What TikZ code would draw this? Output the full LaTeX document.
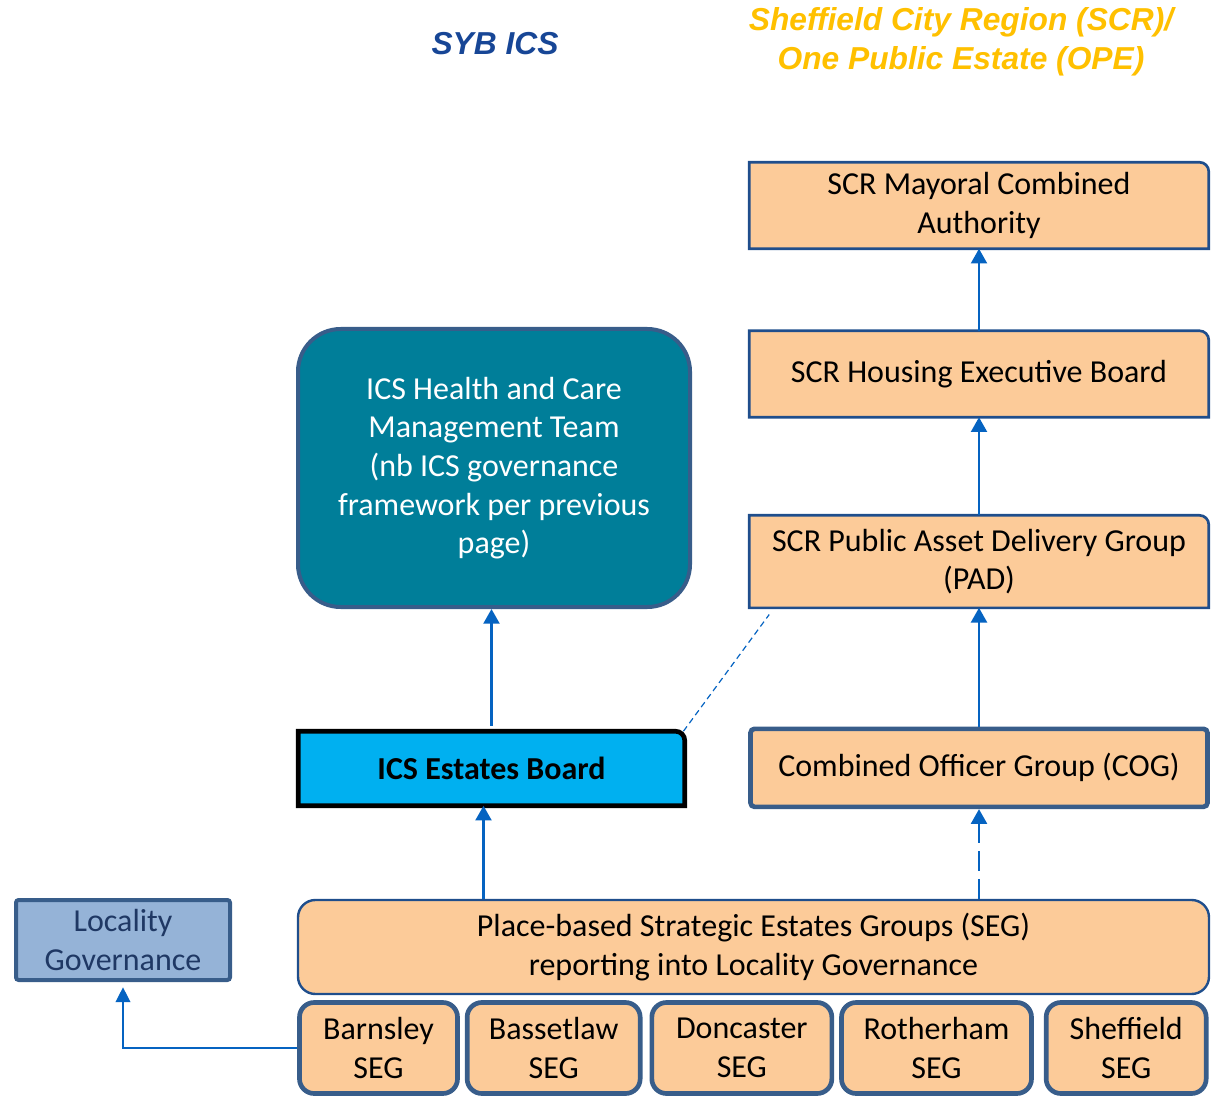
\documentclass[tikz,border=0pt]{standalone}
\usepackage{fontspec}
\setmainfont{Carlito}
\newfontfamily\headfont{Liberation Sans}
\usepackage{tikz}
\usetikzlibrary{arrows.meta, positioning, backgrounds}
\usepackage{xcolor}
\definecolor{peach}{RGB}{252,203,153}
\definecolor{navyline}{RGB}{31,78,140}
\definecolor{slateline}{RGB}{56,93,138}
\definecolor{tealbox}{RGB}{0,126,153}
\definecolor{cyanbox}{RGB}{0,176,240}
\definecolor{localbox}{RGB}{149,179,215}
\definecolor{localtext}{RGB}{31,56,100}
\definecolor{linkblue}{RGB}{5,99,193}
\definecolor{sybblue}{RGB}{23,70,150}
\definecolor{scrgold}{RGB}{255,192,0}

\newcommand{\cardfont}{\fontsize{24}{29}\selectfont}
% box outline with only the top right corner rounded
\newcommand{\tabframe}[2]{%
  \path[#1] (#2.south west) -- (#2.north west) -- ([xshift=-7pt]#2.north east)
    arc[start angle=90, end angle=0, radius=7pt] -- (#2.south east) -- cycle;}

\begin{document}
\begin{tikzpicture}[
    x=0.75pt, y=-0.75pt,
    deck/.style={rectangle, minimum width=344.25pt, minimum height=64.5pt,
                 align=center, font=\cardfont},
    segbox/.style={rectangle, draw=slateline, line width=3.5pt, fill=peach,
                   rounded corners=11pt, minimum height=68.25pt,
                   align=center, font=\cardfont},
    headline/.style={align=center, font=\headfont\fontsize{23.8}{29}\selectfont\bfseries\itshape},
    arr/.style={-{Triangle[length=11pt, width=12pt]}, linkblue, line width=1.6pt},
]
\useasboundingbox (0,0) rectangle (1218,1098);

% Headings
\node[headline, text=sybblue] (syb) at (495,44) {SYB ICS};
\node[headline, text=scrgold] (scr) at (961,42) {Sheffield City Region (SCR)/\\One Public Estate (OPE)};

% SCR column
\node[deck] at (979,205.5) (mca) {SCR Mayoral Combined\\Authority};
\node[deck, below=61.5pt of mca] (housing) {SCR Housing Executive Board};
\node[deck, minimum height=69pt, below=73.5pt of housing] (pad) {SCR Public Asset Delivery Group\\(PAD)};
\node[deck, draw=slateline, line width=3.5pt, fill=peach, rounded corners=3pt,
      minimum width=342.75pt, minimum height=58.5pt, below=89pt of pad] (cog)
      {Combined Officer Group (COG)};

% ICS column
\node[rectangle, draw=slateline, line width=3pt, fill=tealbox, text=white,
      rounded corners=32pt, minimum width=294pt, minimum height=208.5pt,
      align=center, font=\cardfont] at (494,468) (team)
      {ICS Health and Care\\Management Team\\(nb ICS governance\\framework per previous\\page)};
\node[deck, minimum width=289.5pt, minimum height=55.5pt, font=\cardfont\bfseries]
      at (491.5,768.5) (estates) {ICS Estates Board};

% Locality level
\node[rectangle, draw=slateline, line width=3pt, fill=localbox, text=localtext,
      rounded corners=2pt, minimum width=160.5pt, minimum height=60pt,
      align=center, font=\cardfont] at (123,940) (locality) {Locality\\Governance};
\node[rectangle, draw=navyline, line width=1.8pt, fill=peach, rounded corners=13pt,
      minimum width=683.25pt, minimum height=70.5pt, align=center, font=\cardfont]
      at (753.5,947) (seg)
      {Place-based Strategic Estates Groups (SEG)\\reporting into Locality Governance};

% Place SEGs
\node[segbox, minimum width=118.5pt] at (378.5,1048) (barnsley) {Barnsley\\SEG};
\node[segbox, minimum width=129.75pt, right=3.75pt of barnsley] (bassetlaw) {Bassetlaw\\SEG};
\node[segbox, minimum width=135pt, right=5.25pt of bassetlaw] (doncaster) {Doncaster\\SEG};
\node[segbox, minimum width=142.5pt, right=3.75pt of doncaster] (rotherham) {Rotherham\\SEG};
\node[segbox, minimum width=120pt, right=7.5pt of rotherham] (sheffield) {Sheffield\\SEG};

% Tab-style outlines behind the text
\begin{scope}[on background layer]
\foreach \n in {mca, housing, pad}
  \tabframe{fill=peach, draw=navyline, line width=2pt}{\n};
\tabframe{fill=cyanbox, draw=black, line width=3.5pt}{estates};
\end{scope}

% Reporting lines
\coordinate (estin) at ([xshift=-6pt]estates.south);
\draw[arr] (housing.north) -- (mca.south);
\draw[arr] (pad.north) -- (housing.south);
\draw[arr] (cog.north) -- (pad.south);
\draw[arr, dash pattern=on 15pt off 6pt] (seg.north -| cog.south) -- (cog.south);
\draw[arr, shorten <=4pt] (estates.north) -- (estates.north |- team.south);
\draw[arr] (estin |- seg.north) -- (estin);
\draw[linkblue, line width=0.9pt, dash pattern=on 4.5pt off 3pt]
      ([xshift=-1pt]estates.north east) -- ([xshift=15pt, yshift=-5pt]pad.south west);
\draw[linkblue, line width=1pt, -{Triangle[length=11pt, width=11pt]}, shorten >=4pt]
      (barnsley.west) -| (locality.south);

\end{tikzpicture}
\end{document}
